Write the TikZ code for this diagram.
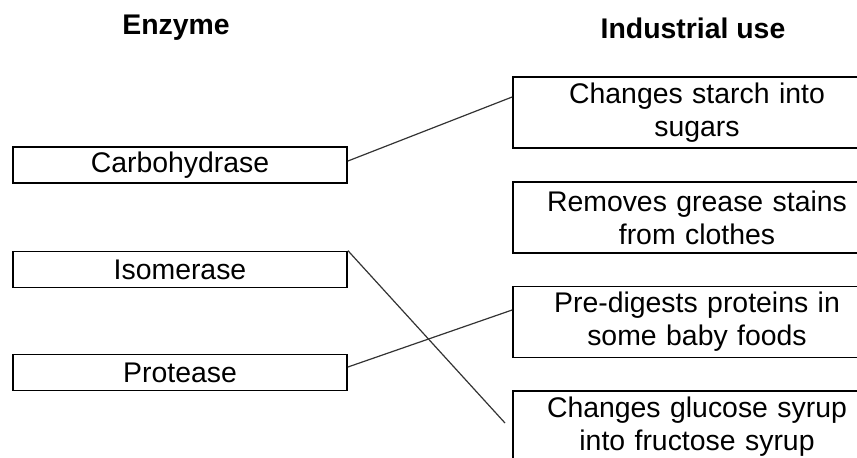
\documentclass[tikz,border=0pt]{standalone}
\usepackage{fontspec}
\setmainfont{Liberation Sans}
\usetikzlibrary{positioning}
\usetikzlibrary{calc}

\tikzset{
    enzbox/.style={draw, line width=0.9pt, inner sep=0pt, minimum width=167pt, minimum height=18pt},
    usebox/.style={draw, line width=0.9pt, inner sep=0pt, minimum width=184pt, minimum height=35.5pt, text width=184pt, align=center},
    header/.style={font=\fontsize{14.2}{16.5}\selectfont\bfseries},
    link/.style={line width=0.6pt, draw=black!80}
}

\begin{document}
\begin{tikzpicture}[x=0.5pt, y=-0.5pt, font=\fontsize{14.2}{16.5}\selectfont]
            \useasboundingbox (0,0) rectangle (857,457);

            \node[header] (enz_head) at (176,28) {Enzyme};
            \node[header] (use_head) at (693,28) {Industrial use};

            \node[enzbox] (carb) at (180,165) {Carbohydrase};
            \node[enzbox] (iso) at (180,269.5) {Isomerase};
            \node[enzbox] (prot) at (180,372.5) {Protease};

            \node[usebox] (starch) at (697,112.5) {Changes starch into\\sugars};
            \node[usebox] (grease) at (697,217.5) {Removes grease stains\\from clothes};
            \node[usebox] (baby) at (697,322) {Pre-digests proteins in\\some baby foods};
            \node[usebox] (syrup) at (697,426.5) {Changes glucose syrup\\into fructose syrup};
            \coordinate (iso_end) at (505,423);

            \draw[link] ([yshift=2pt]carb.east) -- ([yshift=7.75pt]starch.west);
            \draw[link] (iso.north east) -- (iso_end);
            \draw[link] ([yshift=2.75pt]prot.east) -- ([yshift=6pt]baby.west);
        \end{tikzpicture}
\end{document}
